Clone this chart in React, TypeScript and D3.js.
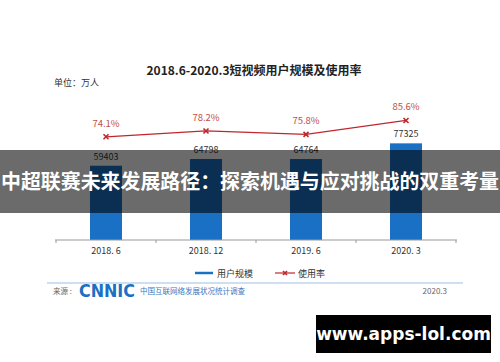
import React from 'react';
import * as d3 from 'd3';

const categories = ['2018. 6', '2018. 12', '2019. 6', '2020. 3'];
const users = [59403, 64798, 64764, 77325];
const rates = [74.1, 78.2, 75.8, 85.6];

const W = 500;
const H = 362;
const FONT = '"Noto Sans CJK SC", "Noto Sans", sans-serif';

export default function App() {
  const x = d3.scaleBand().domain(categories).range([56, 456]).paddingInner(0.68).paddingOuter(0.34);
  const yBar = d3.scaleLinear().domain([0, 80000]).range([240, 140]);
  const yRate = d3.scaleLinear().domain([0, 100]).range([242, 100]);
  const cx = (c: string) => (x(c) as number) + x.bandwidth() / 2;

  const line = d3.line<number>()
    .x((_, i) => cx(categories[i]))
    .y((d) => yRate(d));

  const ticks = [56, ...categories.map((c) => (x(c) as number) + x.bandwidth() / 2 + 50)];

  const cross = (px: number, py: number, s: number, key?: any) => (
    <g key={key} stroke="#c0272d" strokeWidth={1.6}>
      <line x1={px - s} y1={py - s} x2={px + s} y2={py + s} />
      <line x1={px - s} y1={py + s} x2={px + s} y2={py - s} />
    </g>
  );

  return (
    <div style={{ position: 'fixed', left: 0, top: 0 }}>
      <svg width={W} height={H} style={{ display: 'block', background: '#fff' }} fontFamily={FONT}>
        <text x={254} y={75} textAnchor="middle" fontSize={12} fontWeight="bold" fill="#222">
          2018.6-2020.3短视频用户规模及使用率
        </text>
        <text x={54} y={86} fontSize={9} fill="#333">单位：万人</text>

        {categories.map((c, i) => (
          <g key={c}>
            <rect x={x(c)} y={yBar(users[i])} width={x.bandwidth()} height={240 - yBar(users[i])} fill="#1a70c4" />
            <text x={cx(c)} y={yBar(users[i]) - 6} textAnchor="middle" fontSize={9} fill="#333">{users[i]}</text>
            <text x={cx(c)} y={254} textAnchor="middle" fontSize={9} fill="#333">{c}</text>
          </g>
        ))}

        <line x1={55} x2={457} y1={240} y2={240} stroke="#999" strokeWidth={1} />
        {ticks.map((t, i) => (
          <line key={i} x1={t} x2={t} y1={240} y2={243} stroke="#999" />
        ))}

        <path d={line(rates) || ''} fill="none" stroke="#c0272d" strokeWidth={1.2} />
        {rates.map((r, i) => cross(cx(categories[i]), yRate(r), 2.5, i))}
        {rates.map((r, i) => (
          <text key={'r' + i} x={cx(categories[i])} y={yRate(r) - 10} textAnchor="middle" fontSize={9.5} fill="#c2504a">
            {r.toFixed(1)}%
          </text>
        ))}

        <line x1={195} x2={213} y1={273} y2={273} stroke="#1a70c4" strokeWidth={2.5} />
        <text x={217} y={276.5} fontSize={9} fill="#333">用户规模</text>
        <line x1={275} x2={295} y1={273} y2={273} stroke="#c0272d" strokeWidth={1.2} />
        {cross(285, 273, 2, 'lg')}
        <text x={298} y={276.5} fontSize={9} fill="#333">使用率</text>

        <line x1={47} x2={463} y1={283} y2={283} stroke="#bcd5ec" strokeWidth={1.5} />
        <text x={53} y={294} fontSize={7.5} fill="#666">来源 :</text>
        <text x={79} y={296.5} fontSize={17} fontWeight="bold" fill="#1a70c4" fontFamily="'DejaVu Sans', sans-serif" textLength={56} lengthAdjust="spacingAndGlyphs">CNNIC</text>
        <text x={140} y={294} fontSize={7.5} fill="#3a78c0">中国互联网络发展状况统计调查</text>
        <text x={447} y={294} textAnchor="end" fontSize={8} fill="#666">2020.3</text>

        <rect x={0} y={150} width={W} height={63} fill="rgba(0,0,0,0.58)" />
        <text x={W / 2} y={189} textAnchor="middle" fontSize={20} fontWeight="bold" fill="#fff" textLength={498} lengthAdjust="spacingAndGlyphs">
          中超联赛未来发展路径：探索机遇与应对挑战的双重考量
        </text>

        <rect x={316} y={315} width={175} height={38} fill="#000" />
        <text x={403.5} y={340} textAnchor="middle" fontSize={17} fontWeight="bold" fill="#fff" fontFamily="'DejaVu Sans', sans-serif">
          www.apps-lol.com
        </text>
      </svg>
    </div>
  );
}
